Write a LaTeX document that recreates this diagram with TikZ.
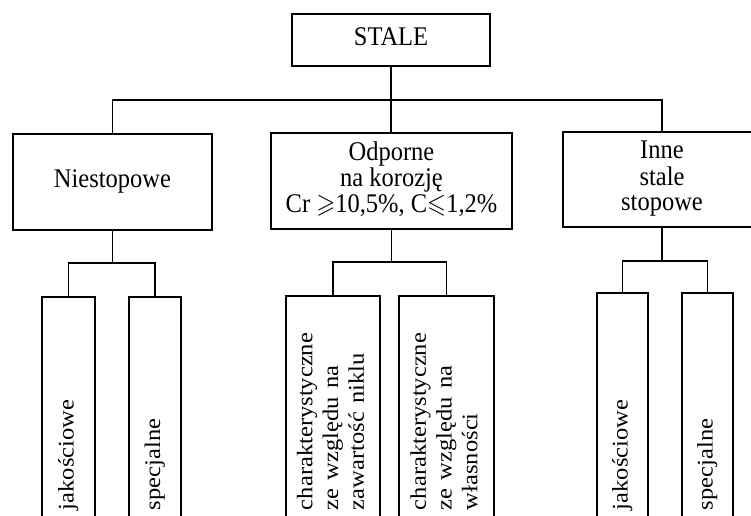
\documentclass[tikz,border=0pt]{standalone}
\usepackage{amssymb}
\usepackage{graphicx}
\usepackage{fontspec}
\setmainfont{Liberation Serif}
\newcommand{\topstack}[1]{\scalebox{1}[1.1]{\begin{tabular}{@{}c@{}}#1\end{tabular}}}
\newcommand{\sidestack}[1]{\scalebox{1.1}[1]{\begin{tabular}{@{}l@{}}#1\end{tabular}}}
\begin{document}
\begin{tikzpicture}[x=1pt,y=-1pt,
  box/.style={draw, line width=1.1pt, font=\fontsize{24.5}{23}\selectfont, align=center, inner sep=0pt},
  vbox/.style={draw, line width=1.1pt, rotate=90, font=\fontsize{22.3}{25.7}\selectfont, align=left, inner xsep=15pt, inner ysep=0pt, anchor=center},
  link/.style={line width=1.1pt}]
\useasboundingbox (0,0) rectangle (751,515);
\clip (0,0) rectangle (751,515);
% top level
\node[box, minimum width=198pt, minimum height=52pt] (stale) at (391,40) {\topstack{STALE}};
\node[box, minimum width=199pt, minimum height=96pt] (nie) at (112.5,182) {\topstack{Niestopowe}};
\node[box, minimum width=241pt, minimum height=96pt] (odp) at (391.5,181) {\topstack{Odporne\\na korozję\\Cr $\geqslant$10,5\%, C$\leqslant$1,2\%}};
\node[box, minimum width=198pt, minimum height=95pt] (inne) at (662,179.5) {\topstack{Inne\\stale\\stopowe}};
% bottom level
\node[vbox, text width=198pt, minimum height=53pt] (jak1) at (68.5,411) {\sidestack{jakościowe}};
\node[vbox, text width=198pt, minimum height=52pt] (spe1) at (155,411) {\sidestack{specjalne}};
\node[vbox, text width=199pt, minimum height=94pt] (ch1) at (333,410.5) {\sidestack{charakterystyczne\\ze względu na\\zawartość niklu}};
\node[vbox, text width=199pt, minimum height=95pt] (ch2) at (446.5,410.5) {\sidestack{charakterystyczne\\ze względu na\\własności}};
\node[vbox, text width=202pt, minimum height=51pt] (jak2) at (622.5,409) {\sidestack{jakościowe}};
\node[vbox, text width=202pt, minimum height=51pt] (spe2) at (707.5,409) {\sidestack{specjalne}};
% bars
\coordinate (b0) at (0,100);
\coordinate (b1) at (0,263);
\coordinate (b2) at (0,262);
\coordinate (b3) at (0,261);
% connectors
\draw[link] (stale.south) -- (stale.south |- odp.north);
\draw[link] (nie.north) |- (inne.north |- b0) -- (inne.north);
\draw[link] (nie.south) -- (nie.south |- b1);
\draw[link] (jak1.east) |- (spe1.east |- b1) -- (spe1.east);
\draw[link] (odp.south) -- (odp.south |- b2);
\draw[link] (ch1.east) |- (ch2.east |- b2) -- (ch2.east);
\draw[link] (inne.south) -- (inne.south |- b3);
\draw[link] (jak2.east) |- (spe2.east |- b3) -- (spe2.east);
\end{tikzpicture}
\end{document}
